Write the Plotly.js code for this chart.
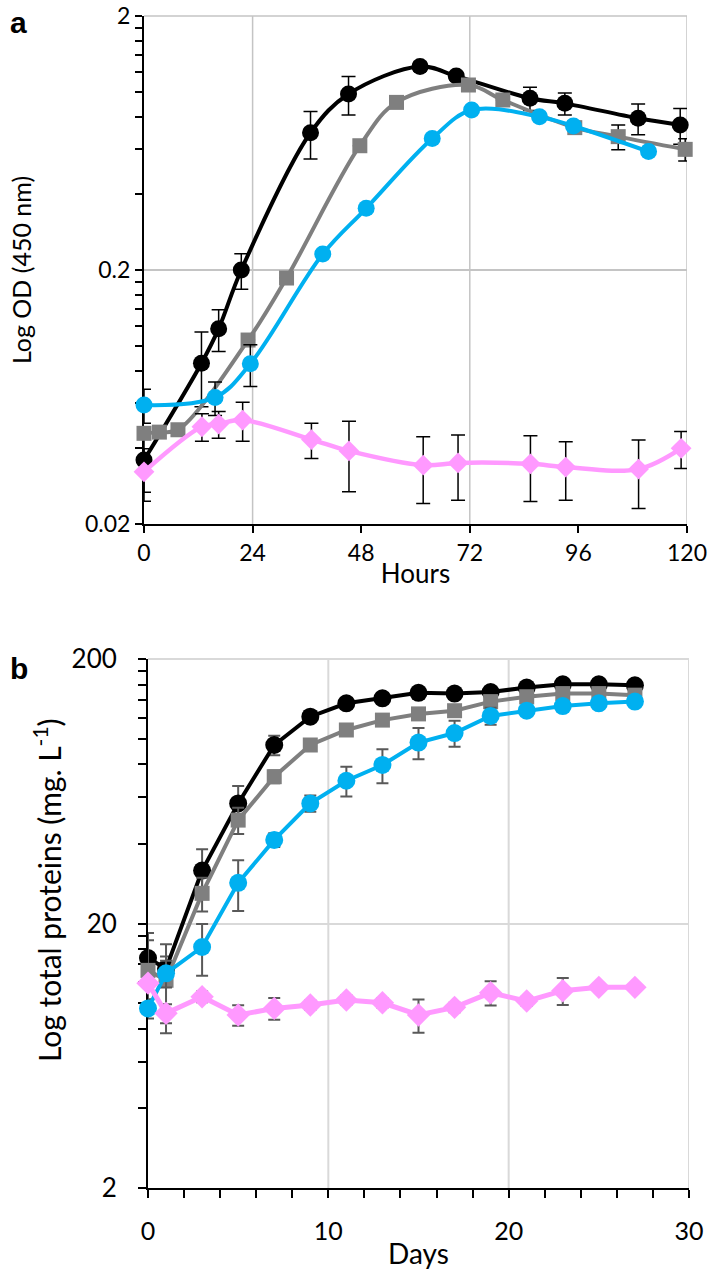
<!DOCTYPE html>
<html><head><meta charset="utf-8">
<script src="https://cdn.plot.ly/plotly-3.0.1.min.js"></script>
<style>html,body{margin:0;padding:0;background:#fff}#chart{width:711px;height:1274px}</style>
</head><body><div id="chart"></div>
<script>
// ---------- Panel a: Log OD (450 nm) vs hours ----------
const hoursBlack = [0, 12.7, 16.5, 21.5, 36.8, 45.2, 61, 69, 85.3, 93, 109.2, 118.5];
const odBlack    = [0.0357, 0.0859, 0.1175, 0.2, 0.694, 0.986, 1.265, 1.16, 0.949, 0.906, 0.791, 0.745];
const odBlackErr = [0.009, 0.028, 0.022, 0.032, 0.147, 0.17, 0.05, 0.04, 0.1, 0.09, 0.11, 0.12];

const hoursGray  = [0, 3.4, 7.5, 23, 31.5, 47.7, 55.8, 71.7, 79.3, 95.2, 104.8, 119.6];
const odGray     = [0.0455, 0.046, 0.047, 0.106, 0.186, 0.617, 0.914, 1.07, 0.934, 0.727, 0.67, 0.597];
const odGrayErr  = [0, 0, 0, 0, 0, 0, 0, 0, 0, 0.02, 0.075, 0.06];

const hoursBlue  = [0, 15.7, 23.5, 39.5, 49.1, 63.7, 72.4, 87.4, 94.9, 111.5];
const odBlue     = [0.0588, 0.063, 0.0855, 0.231, 0.35, 0.659, 0.853, 0.803, 0.738, 0.585];
const odBlueErr  = [0.009, 0.0095, 0.016, 0, 0, 0, 0, 0, 0, 0];

const hoursPink  = [0, 12.8, 16.5, 21.8, 37, 45.3, 61.7, 69.4, 85.4, 93.2, 109.3, 118.7];
const odPink     = [0.0321, 0.0483, 0.0495, 0.0513, 0.043, 0.0388, 0.0341, 0.0348, 0.0345, 0.0335, 0.0329, 0.0397];
const odPinkErr  = [0.0075, 0.006, 0.006, 0.009, 0.0068, 0.012, 0.01, 0.01, 0.01, 0.0087, 0.0099, 0.0066];

const hourTicks   = [0, 24, 48, 72, 96, 120];
const hourGrid    = [24, 72, 120];
const odTicks     = [0.02, 0.2, 2];
const odTickText  = ['0.02', '0.2', '2'];
const odMinor     = [0.04, 0.06, 0.08, 0.10, 0.12, 0.14, 0.16, 0.18, 0.4, 0.6, 0.8, 1.0, 1.2, 1.4, 1.6, 1.8];

// ---------- Panel b: Log total proteins vs days ----------
const daysAll    = [0, 1, 3, 5, 7, 9, 11, 13, 15, 17, 19, 21, 23, 25, 27];
const protBlack  = [14.8, 13.5, 31.7, 56.9, 94.6, 121, 136, 142, 149, 148, 150, 156, 160.5, 160.5, 159];
const protBlackErr = [3.6, 1.5, 6.5, 9.3, 8, 4, 4, 3, 3, 3, 3, 3, 3, 3, 3];
const protGray   = [13.3, 12.2, 26, 49.2, 71.8, 94.6, 107.8, 117.5, 124, 127.5, 138, 144, 148, 148, 146];
const protGrayErr  = [4, 4.5, 3.8, 5.6, 4, 4, 4, 4, 4, 4, 6, 4, 4, 4, 4];
const protBlue   = [9.55, 12.96, 16.3, 28.5, 41.4, 56.9, 69.3, 79.5, 96.6, 105, 121.8, 127.5, 132.8, 136, 138];
const protBlueErr  = [0.8, 1.5, 3.6, 6.2, 2.5, 4, 8.9, 11.7, 13, 11.8, 9, 3, 3, 3, 3];
const protPink   = [11.9, 9.15, 10.57, 9.02, 9.55, 9.84, 10.28, 10.03, 9.02, 9.64, 10.95, 10.18, 11.14, 11.47, 11.47];
const protPinkErr  = [0.5, 0.75, 0.5, 0.8, 0.9, 0.4, 0.4, 0.4, 1.3, 0.4, 1.15, 0.4, 1.3, 0.3, 0.3];

const dayTicks    = [0, 10, 20, 30];
const dayGrid     = [10, 20, 30];
const protTicks   = [2, 20, 200];
const protTickText = ['2', '20', '200'];
const protMinor   = [4, 6, 8, 10, 12, 14, 16, 18, 40, 60, 80, 100, 120, 140, 160, 180];

// ---------- styling ----------
const W = 711, H = 1274;
const C_BLACK = '#000000', C_GRAY = '#7f7f7f', C_BLUE = '#00b0f0', C_PINK = '#ff99ff';
const FONT = 'Lato, "Open Sans", sans-serif';

function tr(x, y, err, color, symbol, size, xa, ya, shape, lw, errColor, errW, capW) {
  return {
    x: x, y: y, xaxis: xa, yaxis: ya, type: 'scatter', mode: 'lines+markers',
    line: {color: color, width: lw, shape: shape, smoothing: 1},
    marker: {color: color, symbol: symbol, size: size, line: {width: 0}},
    error_y: {type: 'data', array: err, visible: true, color: errColor, thickness: errW, width: capW},
    cliponaxis: false, showlegend: false, hoverinfo: 'x+y'
  };
}

const data = [
  tr(hoursBlack, odBlack, odBlackErr, C_BLACK, 'circle', 17, 'x', 'y', 'spline', 4, '#000', 1.5, 7),
  tr(hoursGray, odGray, odGrayErr, C_GRAY, 'square', 15, 'x', 'y', 'spline', 4, '#000', 1.5, 7),
  tr(hoursBlue, odBlue, odBlueErr, C_BLUE, 'circle', 17, 'x', 'y', 'spline', 4, '#000', 1.5, 7),
  tr(hoursPink, odPink, odPinkErr, C_PINK, 'diamond', 16, 'x', 'y', 'spline', 4.5, '#000', 1.5, 7),
  tr(daysAll, protBlack, protBlackErr, C_BLACK, 'circle', 18, 'x2', 'y2', 'linear', 4, '#595959', 2, 6),
  tr(daysAll, protGray, protGrayErr, C_GRAY, 'square', 15, 'x2', 'y2', 'linear', 4, '#595959', 2, 6),
  tr(daysAll, protBlue, protBlueErr, C_BLUE, 'circle', 18, 'x2', 'y2', 'linear', 4, '#595959', 2, 6),
  tr(daysAll, protPink, protPinkErr, C_PINK, 'diamond', 18, 'x2', 'y2', 'linear', 5, '#595959', 2, 6)
];

// plot-area pixel boxes
const A = {l: 144, r: 687, t: 16, b: 524};
const B = {l: 148, r: 689, t: 659, b: 1188};

const shapes = [];
hourGrid.forEach(v => shapes.push({type: 'line', xref: 'x', yref: 'y domain', x0: v, x1: v, y0: 0, y1: 1,
  line: {color: '#c4c4c4', width: 1.5}, layer: 'below'}));
shapes.push({type: 'line', xref: 'x domain', yref: 'y domain', x0: 0, x1: 1, y0: 1, y1: 1,
  line: {color: '#c4c4c4', width: 1.5}, layer: 'below'});
dayGrid.forEach(v => shapes.push({type: 'line', xref: 'x2', yref: 'y2 domain', x0: v, x1: v, y0: 0, y1: 1,
  line: {color: '#d9d9d9', width: 2}, layer: 'below'}));
shapes.push({type: 'line', xref: 'x2 domain', yref: 'y2 domain', x0: 0, x1: 1, y0: 1, y1: 1,
  line: {color: '#d9d9d9', width: 2}, layer: 'below'});

const axBase = {
  showline: true, linecolor: '#000', linewidth: 2, ticks: 'outside', tickcolor: '#000',
  tickwidth: 2, zeroline: false, layer: 'below traces', fixedrange: true
};

const layout = {
  width: W, height: H, margin: {l: 0, r: 0, t: 0, b: 0},
  paper_bgcolor: '#fff', plot_bgcolor: 'rgba(0,0,0,0)',
  font: {family: FONT, color: '#000'},
  xaxis: Object.assign({}, axBase, {
    domain: [A.l / W, A.r / W], anchor: 'y', range: [0, 120],
    tickmode: 'array', tickvals: hourTicks, ticklen: 7, showgrid: false,
    tickfont: {size: 23, family: FONT},
    title: {text: 'Hours', font: {size: 26, family: FONT}, standoff: 0}
  }),
  yaxis: Object.assign({}, axBase, {
    domain: [1 - A.b / H, 1 - A.t / H], anchor: 'x', type: 'log',
    range: [Math.log10(0.02), Math.log10(2)],
    tickmode: 'array', tickvals: odTicks, ticktext: odTickText, ticklen: 7,
    showgrid: true, gridcolor: '#c4c4c4', gridwidth: 1.5,
    minor: {tickmode: 'array', tickvals: odMinor, ticks: 'outside', ticklen: 7, tickwidth: 2, tickcolor: '#000', showgrid: false},
    tickfont: {size: 23, family: FONT},
    title: {text: 'Log OD (450 nm)', font: {size: 25, family: FONT}, standoff: 46}
  }),
  xaxis2: Object.assign({}, axBase, {
    domain: [B.l / W, B.r / W], anchor: 'y2', range: [0, 30],
    tickmode: 'array', tickvals: dayTicks, ticklen: 8, showgrid: false,
    minor: {dtick: 2, tick0: 0, ticks: 'outside', ticklen: 8, tickwidth: 2, tickcolor: '#000', showgrid: false},
    ticklabelstandoff: 12,
    tickfont: {size: 25, family: FONT},
    title: {text: 'Days', font: {size: 28, family: FONT}, standoff: 0}
  }),
  yaxis2: Object.assign({}, axBase, {
    domain: [1 - B.b / H, 1 - B.t / H], anchor: 'x2', type: 'log',
    range: [Math.log10(2), Math.log10(200)],
    tickmode: 'array', tickvals: protTicks, ticktext: protTickText, ticklen: 8,
    showgrid: true, gridcolor: '#d9d9d9', gridwidth: 2,
    minor: {tickmode: 'array', tickvals: protMinor, ticks: 'outside', ticklen: 8, tickwidth: 2, tickcolor: '#000', showgrid: false},
    ticklabelstandoff: 16,
    tickfont: {size: 26, family: FONT}
  }),
  shapes: shapes,
  annotations: [
    {text: '<b>a</b>', xref: 'paper', yref: 'paper', x: 8 / W, y: 1 - 22 / H, xanchor: 'left', yanchor: 'middle',
     showarrow: false, font: {size: 30, family: 'Liberation Sans, Arial, sans-serif', color: '#000'}},
    {text: '<b>b</b>', xref: 'paper', yref: 'paper', x: 8 / W, y: 1 - 668 / H, xanchor: 'left', yanchor: 'middle',
     showarrow: false, font: {size: 30, family: 'Liberation Sans, Arial, sans-serif', color: '#000'}},
    {text: 'Log total proteins (mg. L<sup>-1</sup>)', xref: 'paper', yref: 'paper', x: 47 / W, y: 1 - 890 / H,
     xanchor: 'center', yanchor: 'middle', textangle: -90, showarrow: false,
     font: {size: 30, family: FONT, color: '#000'}}
  ]
};

Plotly.newPlot('chart', data, layout, {displayModeBar: false, staticPlot: true});
</script>
</body></html>
